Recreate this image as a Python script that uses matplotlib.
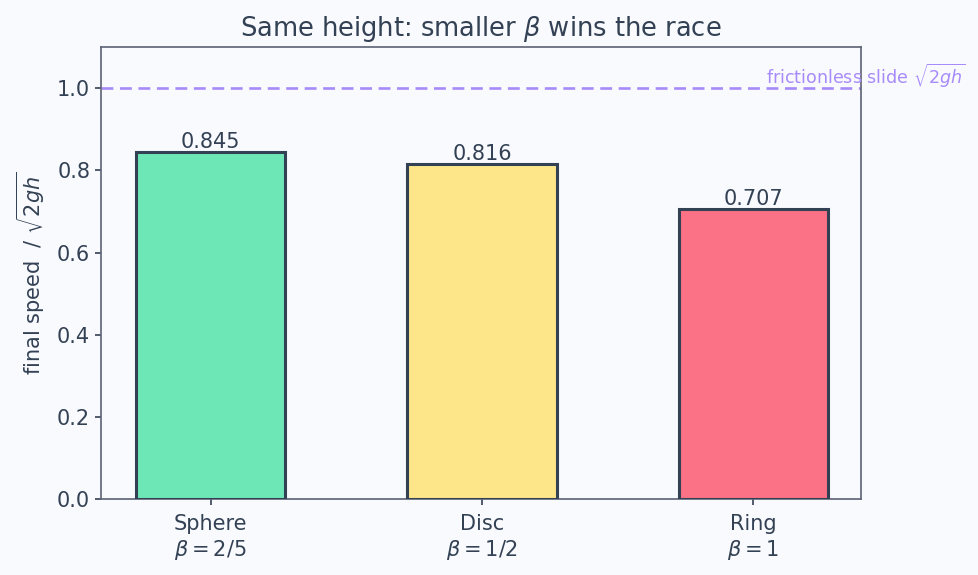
import matplotlib.pyplot as plt

# data
objects = ["Sphere", "Disc", "Ring"]
betas = [r"$\beta = 2/5$", r"$\beta = 1/2$", r"$\beta = 1$"]
speeds = [0.845, 0.816, 0.707]
colors = ["#6ee7b7", "#fde68a", "#fb7185"]

ink = "#334155"
bg = "#f9fafd"

fig, ax = plt.subplots(figsize=(9.79, 5.75), dpi=100)
fig.patch.set_facecolor(bg)
ax.set_facecolor(bg)
fig.subplots_adjust(left=0.103, right=0.879, top=0.918, bottom=0.132)

x = list(range(len(objects)))
bars = ax.bar(x, speeds, width=0.55, color=colors, edgecolor=ink, linewidth=2.2, zorder=3)
for b, v in zip(bars, speeds):
    ax.text(b.get_x() + b.get_width() / 2, v, f"{v:.3f}", ha="center", va="bottom",
            fontsize=15, color=ink)

ax.axhline(1.0, color="#a78bfa", linestyle="--", linewidth=1.9, dashes=(4.5, 2.5), zorder=2)
ax.text(1.138, 1.0 - 0.004, r"frictionless slide $\sqrt{2gh}$", transform=ax.get_yaxis_transform(),
        ha="right", va="bottom", fontsize=12.6, color="#a78bfa")

ax.set_xticks(x)
ax.set_xticklabels([f"{o}\n{b}" for o, b in zip(objects, betas)], fontsize=15, color=ink)
ax.set_xlim(-0.405, 2.395)
ax.set_ylim(0, 1.1)
ax.set_yticks([0.0, 0.2, 0.4, 0.6, 0.8, 1.0])
ax.tick_params(axis="y", labelsize=15, colors=ink, length=4.2, width=1.2)
ax.tick_params(axis="x", colors=ink, length=4.2, width=1.2, pad=6.5)
ax.set_ylabel(r"final speed  / $\sqrt{2gh}$", fontsize=15, color=ink, labelpad=7)
ax.set_title(r"Same height: smaller $\beta$ wins the race", fontsize=18.5, color=ink, pad=8)
for s in ax.spines.values():
    s.set_color("#5b6275")
    s.set_linewidth(1.2)

fig.savefig("out.png", facecolor=bg)
